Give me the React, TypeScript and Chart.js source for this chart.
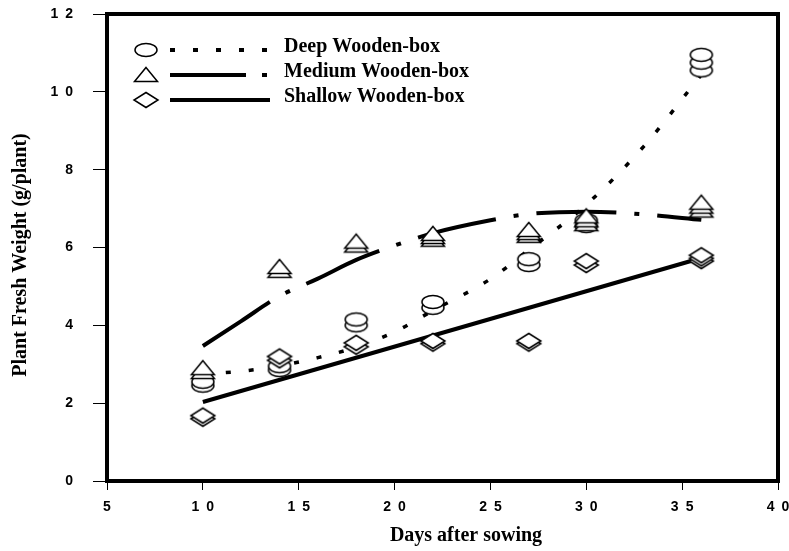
import React, { useEffect, useRef } from "react";
import { Chart, registerables } from "chart.js";
Chart.register(...registerables);

// ---- Data ----
const deepDays = [10, 10, 14, 14, 18, 18, 22, 22, 27, 27, 30, 30, 36, 36, 36];
const deepWeight = [2.45, 2.55, 2.85, 2.95, 4.0, 4.15, 4.45, 4.6, 5.55, 5.7, 6.55, 6.7, 10.55, 10.75, 10.95];

const mediumDays = [10, 10, 14, 14, 18, 18, 22, 22, 22, 27, 27, 27, 30, 30, 30, 36, 36, 36];
const mediumWeight = [2.8, 2.9, 5.4, 5.5, 6.05, 6.15, 6.2, 6.27, 6.35, 6.3, 6.37, 6.45, 6.6, 6.7, 6.8, 6.95, 7.05, 7.15];

const shallowDays = [10, 10, 14, 14, 18, 18, 22, 22, 27, 27, 30, 30, 36, 36, 36];
const shallowWeight = [1.6, 1.68, 3.1, 3.2, 3.45, 3.55, 3.53, 3.6, 3.53, 3.6, 5.55, 5.65, 5.65, 5.72, 5.8];

const deepTrendDays = [10, 12, 14, 16, 18, 20, 22, 25, 27, 30, 33, 36];
const deepTrend = [2.75, 2.82, 2.96, 3.17, 3.44, 3.83, 4.38, 5.19, 5.94, 7.1, 8.6, 10.44];
const mediumTrendDays = [10, 12, 14, 16, 18, 20, 22, 25, 27, 30, 33, 36];
const mediumTrend = [3.47, 4.11, 4.75, 5.2, 5.68, 6.05, 6.37, 6.7, 6.86, 6.92, 6.85, 6.71];
const shallowTrendDays = [10, 36];
const shallowTrend = [2.03, 5.73];

const xTickValues = [5, 10, 15, 20, 25, 30, 35, 40];
const xTickLabels = ["5", "1\u20020", "1\u20025", "2\u20020", "2\u20025", "3\u20020", "3\u20025", "4\u20020"];
const yTickValues = [0, 2, 4, 6, 8, 10, 12];
const yTickLabels = ["0", "2", "4", "6", "8", "1\u20020", "1\u20022"];

const seriesNames = ["Deep Wooden-box", "Medium Wooden-box", "Shallow Wooden-box"];
const xTitle = "Days after sowing";
const yTitle = "Plant Fresh Weight (g/plant)";

const DOT_DASH = [5, 18];
const DASH_DOT = [80, 18, 5, 18];

function pts(xs: number[], ys: number[]) {
  return xs.map((x, i) => ({ x, y: ys[i] }));
}

function makeMarker(kind: string): HTMLCanvasElement {
  const c = document.createElement("canvas");
  c.width = 28;
  c.height = 20;
  const ctx = c.getContext("2d")!;
  ctx.fillStyle = "#ffffff";
  ctx.strokeStyle = "#000000";
  ctx.lineWidth = 1.5;
  ctx.beginPath();
  if (kind === "circle") {
    ctx.ellipse(14, 10, 11, 6.5, 0, 0, Math.PI * 2);
  } else if (kind === "triangle") {
    ctx.moveTo(14, 2.5);
    ctx.lineTo(25.5, 16.5);
    ctx.lineTo(2.5, 16.5);
    ctx.closePath();
  } else {
    ctx.moveTo(14, 2.5);
    ctx.lineTo(26, 10);
    ctx.lineTo(14, 17.5);
    ctx.lineTo(2, 10);
    ctx.closePath();
  }
  ctx.fill();
  ctx.stroke();
  return c;
}

const SERIF = "'Liberation Serif', 'Times New Roman', serif";
const SANS = "'Liberation Sans', Arial, sans-serif";

export default function App() {
  const ref = useRef<HTMLCanvasElement | null>(null);

  useEffect(() => {
    document.body.style.margin = "0";
    const circle = makeMarker("circle");
    const triangle = makeMarker("triangle");
    const diamond = makeMarker("diamond");

    const framePlugin = {
      id: "frameAndLegend",
      afterDraw(chart: any) {
        const { ctx, chartArea } = chart;
        ctx.save();
        ctx.strokeStyle = "#000";
        ctx.lineWidth = 4;
        ctx.setLineDash([]);
        ctx.strokeRect(chartArea.left, chartArea.top, chartArea.right - chartArea.left, chartArea.bottom - chartArea.top);

        // legend
        const markers = [circle, triangle, diamond];
        const dashes = [DOT_DASH, [76, 16, 5, 18], []];
        const rowsY = [50, 75, 100];
        ctx.font = "bold 20px " + SERIF;
        ctx.fillStyle = "#000";
        for (let i = 0; i < 3; i++) {
          const y = rowsY[i];
          ctx.drawImage(markers[i], 146 - 14, y - 10);
          ctx.beginPath();
          ctx.lineWidth = 4;
          ctx.setLineDash(dashes[i]);
          ctx.moveTo(170, y);
          ctx.lineTo(i === 2 ? 270 : 268, y);
          ctx.stroke();
          ctx.setLineDash([]);
          ctx.textBaseline = "middle";
          ctx.textAlign = "left";
          ctx.fillText(seriesNames[i], 284, y - 3);
        }

        // axis titles
        ctx.textAlign = "center";
        ctx.textBaseline = "middle";
        ctx.fillText(xTitle, 466, 536);
        ctx.translate(21, 255);
        ctx.rotate(-Math.PI / 2);
        ctx.fillText(yTitle, 0, 0);
        ctx.restore();
      },
    };

    const lineBase = {
      type: "line" as const,
      showLine: true,
      pointRadius: 0,
      borderColor: "#000",
      borderWidth: 4,
      fill: false,
      cubicInterpolationMode: "monotone" as const,
      borderCapStyle: "butt" as const,
    };

    const markerBase = {
      type: "scatter" as const,
      showLine: false,
      pointRadius: 10,
      borderColor: "#000",
      backgroundColor: "#fff",
    };

    const chart = new Chart(ref.current!, {
      type: "scatter",
      data: {
        datasets: [
          { ...lineBase, label: "Deep trend", data: pts(deepTrendDays, deepTrend), borderDash: DOT_DASH, borderWidth: 3.5, order: 5 },
          { ...lineBase, label: "Medium trend", data: pts(mediumTrendDays, mediumTrend), borderDash: DASH_DOT, order: 4 },
          { ...lineBase, label: "Shallow trend", data: pts(shallowTrendDays, shallowTrend), order: 6 },
          { ...markerBase, label: seriesNames[0], data: pts(deepDays, deepWeight), pointStyle: circle, order: 3 },
          { ...markerBase, label: seriesNames[1], data: pts(mediumDays, mediumWeight), pointStyle: triangle, order: 1 },
          { ...markerBase, label: seriesNames[2], data: pts(shallowDays, shallowWeight), pointStyle: diamond, order: 2 },
        ] as any,
      },
      options: {
        animation: false,
        responsive: false,
        devicePixelRatio: 1,
        layout: { padding: { left: 0, right: 9, top: 14, bottom: 0 } },
        plugins: { legend: { display: false }, tooltip: { enabled: false } },
        scales: {
          x: {
            type: "linear",
            min: 5,
            max: 40,
            afterBuildTicks: (s: any) => {
              s.ticks = xTickValues.map((v) => ({ value: v }));
            },
            afterFit: (s: any) => {
              s.height = 70;
              s.paddingLeft = 0;
              s.paddingRight = 0;
            },
            ticks: {
              color: "#000",
              padding: 9,
              maxRotation: 0,
              autoSkip: false,
              font: { family: SANS, size: 14, weight: "bold" },
              callback: (v: any) => {
                const i = xTickValues.indexOf(Number(v));
                return i >= 0 ? xTickLabels[i] : "";
              },
            },
            grid: { drawOnChartArea: false, drawTicks: true, tickLength: 9, color: "#000", lineWidth: 1 },
            border: { display: false },
            title: { display: false },
          },
          y: {
            type: "linear",
            min: 0,
            max: 12,
            afterBuildTicks: (s: any) => {
              s.ticks = yTickValues.map((v) => ({ value: v }));
            },
            afterFit: (s: any) => {
              s.width = 107;
              s.paddingTop = 0;
              s.paddingBottom = 0;
            },
            ticks: {
              color: "#000",
              padding: 20,
              autoSkip: false,
              font: { family: SANS, size: 14, weight: "bold" },
              callback: (v: any) => {
                const i = yTickValues.indexOf(Number(v));
                return i >= 0 ? yTickLabels[i] : "";
              },
            },
            grid: { drawOnChartArea: false, drawTicks: true, tickLength: 14, color: "#000", lineWidth: 1 },
            border: { display: false },
            title: { display: false },
          },
        },
      },
      plugins: [framePlugin],
    } as any);

    return () => chart.destroy();
  }, []);

  return (
    <div style={{ width: 789, height: 551, background: "#fff" }}>
      <canvas ref={ref} width={789} height={551} style={{ display: "block" }} />
    </div>
  );
}
